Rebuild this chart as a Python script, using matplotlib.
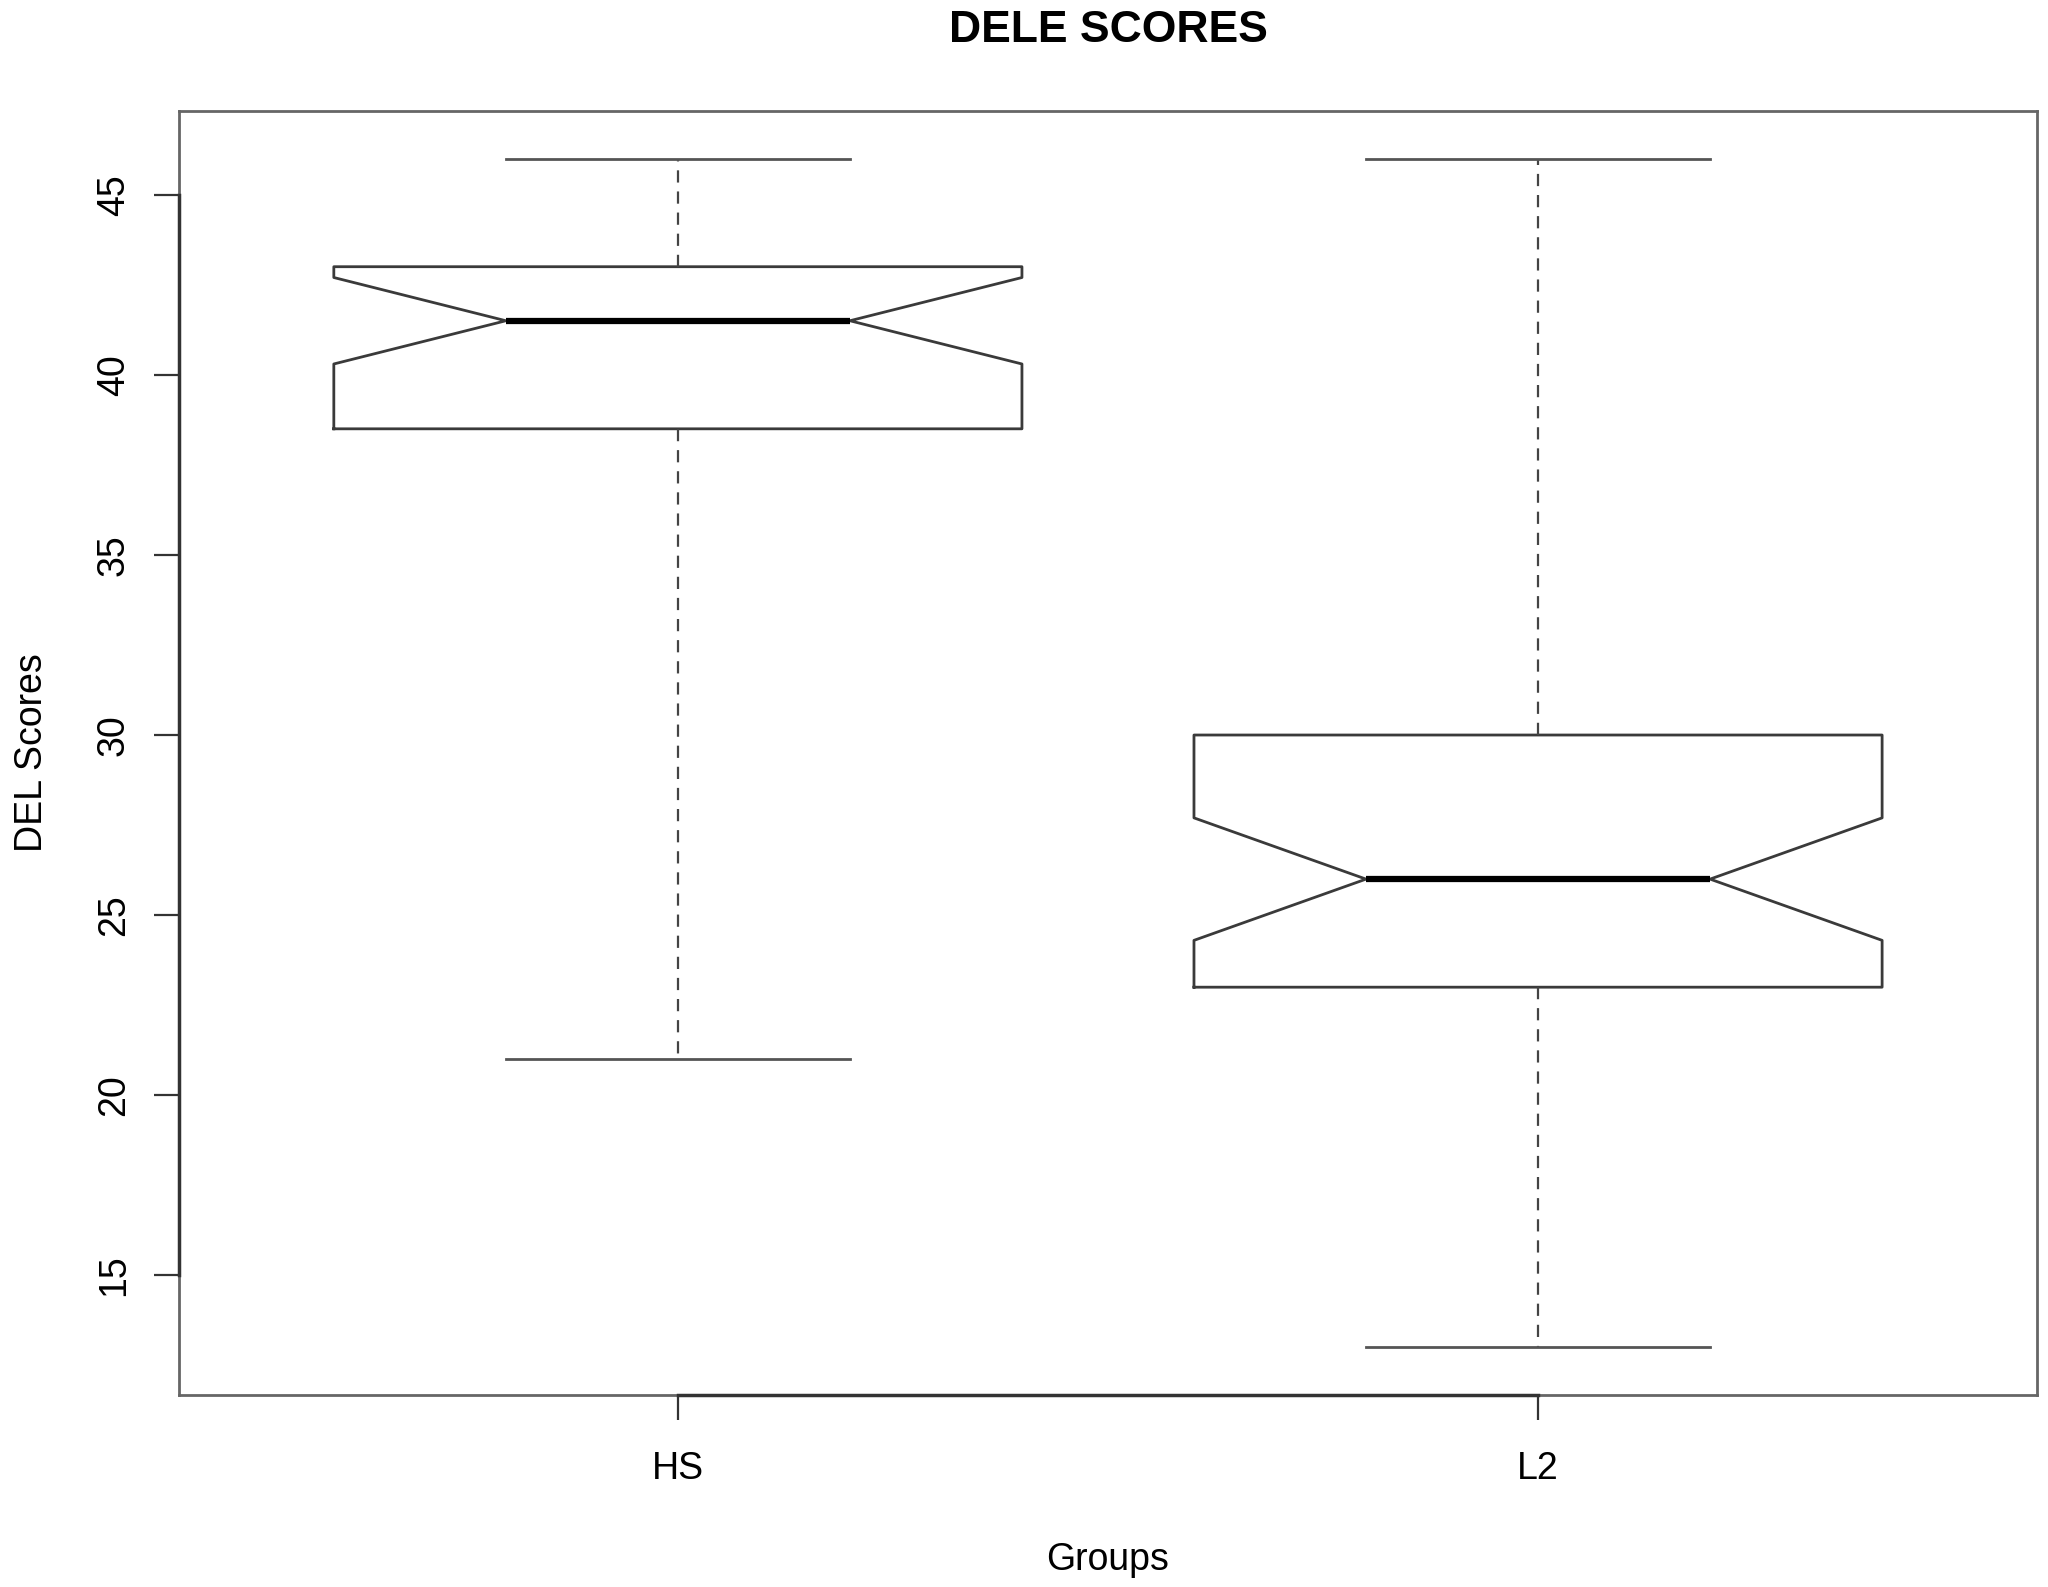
import matplotlib
matplotlib.use("Agg")
import matplotlib.pyplot as plt

groups = ["HS", "L2"]
whisker_low = [21, 13]
q1 = [38.5, 23]
median = [41.5, 26]
q3 = [43, 30]
whisker_high = [46, 46]
notch_low = [40.3, 24.3]
notch_high = [42.7, 27.7]
y_ticks = [15, 20, 25, 30, 35, 40, 45]

plt.rcParams['font.family'] = ['Liberation Sans', 'DejaVu Sans']

fig = plt.figure(figsize=(20.48, 15.87), dpi=100)
ax = fig.add_axes([0.0874, 0.121, 0.9072, 0.809])

stats = []
for i, g in enumerate(groups):
    stats.append(dict(label=g, whislo=whisker_low[i], q1=q1[i], med=median[i],
                      q3=q3[i], whishi=whisker_high[i], cilo=notch_low[i],
                      cihi=notch_high[i], fliers=[]))

line_col = '#3a3a3a'
ax.bxp(stats, positions=[1, 2], widths=0.8, shownotches=True, showfliers=False,
       boxprops=dict(color=line_col, linewidth=2),
       whiskerprops=dict(color='#444444', linewidth=1.6, linestyle=(0, (5.5, 4))),
       capprops=dict(color='#555555', linewidth=2),
       medianprops=dict(color='black', linewidth=4.5))

ax.set_xlim(0.42, 2.58)
ax.set_ylim(11.68, 47.32)
ax.set_yticks(y_ticks)
ax.set_xticks([1, 2])
ax.set_xticklabels(groups)

for s in ax.spines.values():
    s.set_color('#666666')
    s.set_linewidth(2)

ax.tick_params(axis='both', length=18, width=1.6, color='#333333', labelsize=27)
ax.tick_params(axis='y', pad=16)
ax.tick_params(axis='x', pad=22)
for lab in ax.get_yticklabels():
    lab.set_rotation(90)
    lab.set_va('center')

# R-style axis lines from first to last tick
ax.plot([0.42, 0.42], [15, 45], color='#333333', lw=2.5, clip_on=False, zorder=5)
ax.plot([1, 2], [11.68, 11.68], color='#333333', lw=2.5, clip_on=False, zorder=5)

ax.set_title("DELE SCORES", fontsize=32, fontweight='bold', pad=50)
ax.set_xlabel("Groups", fontsize=27, labelpad=40)
ax.set_ylabel("DEL Scores", fontsize=27, labelpad=33)

fig.savefig("out.png", dpi=100, facecolor='white')
